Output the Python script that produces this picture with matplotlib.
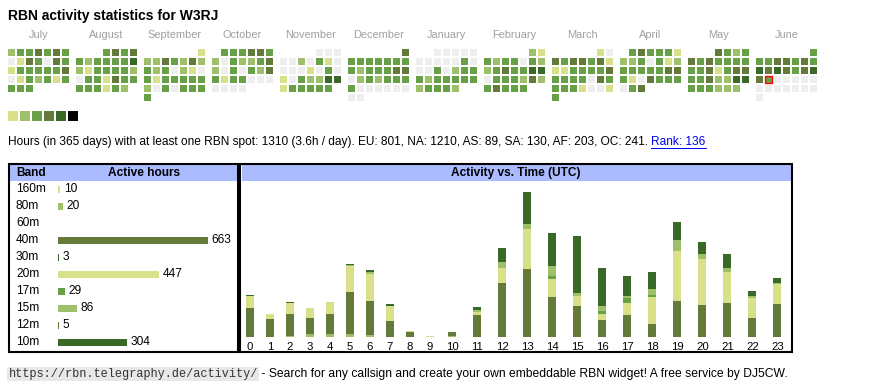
import datetime as dt
import matplotlib
matplotlib.use('Agg')
import matplotlib.pyplot as plt
from matplotlib.patches import Rectangle
from matplotlib.lines import Line2D
from matplotlib.transforms import IdentityTransform, blended_transform_factory

W, H = 870, 390
plt.rcParams['font.family'] = ['Liberation Sans', 'DejaVu Sans']

# --- data ---
callsign = 'W3RJ'
month_names = ['July', 'August', 'September', 'October', 'November', 'December',
               'January', 'February', 'March', 'April', 'May', 'June']
month_years = [2024] * 6 + [2025] * 6
month_nums = [7, 8, 9, 10, 11, 12, 1, 2, 3, 4, 5, 6]
today = dt.date(2025, 6, 17)

# activity level per day (0 = none ... 5 = most)
jul = [2,3,3,4,3,4,3, 0,1,4,3,0,4,3, 1,3,3,3,3,3,4, 0,1,3,2,3,1,3, 3,3,3]
aug = [3,4,3,4, 3,2,3,3,3,3,5, 2,1,3,3,3,3,2, 0,3,3,1,4,3,3, 3,3,3,1,3,2]
sep = [1, 2,2,4,3,2,4,2, 3,2,3,0,2,1,0, 3,1,3,3,3,3,3, 2,0,3,0,3,3,3, 3]
oct_ = [3,3,3,4,4,3, 2,0,3,2,2,3,4, 2,0,3,0,3,2,4, 3,1,3,3,0,0,0, 0,0,0,0]
nov = [0,0,0, 0,0,2,0,3,1,0, 0,0,0,1,0,3,0, 1,0,3,2,2,5,5, 1,3,3,3,3,3]
dec = [4, 3,3,3,3,3,3,3, 3,2,3,3,3,4,4, 0,2,3,2,3,3,3, 3,0,0,0,0,0,0, 0,0]
jan = [0,0,0,0,0, 0,0,0,0,0,3,0, 0,0,3,0,2,3,3, 3,2,3,3,3,3,3, 2,3,3,3,2]
feb = [2,1, 3,2,3,3,0,3,2, 2,3,4,3,3,5,5, 0,3,3,3,2,4,2, 3,4,3,3,3]
mar = [1,0, 4,3,4,4,3,4,1, 1,1,3,3,3,3,4, 3,3,3,3,0,4,3, 3,3,3,1,0,0,1, 3]
apr = [3,4,3,3,3,1, 2,2,3,0,3,1,2, 3,3,3,3,3,4,4, 3,1,0,4,3,3,3, 0,3,4]
may = [4,3,2,3, 4,3,4,3,3,3,3, 3,3,4,1,3,4,4, 3,3,4,2,2,5,5, 3,3,3,2,2,2]
jun = [3, 3,3,4,4,3,4,3, 5,4,5,4,3,4,5, 4,3,0,0,0,0,0, 0,0,0,0,0,0,0, 0]
months = [jul, aug, sep, oct_, nov, dec, jan, feb, mar, apr, may, jun]

level_colors = ['#eeeeee', '#d9e08a', '#9ec06a', '#67a047', '#647a3a', '#3a6826', '#000000']

total_hours = 1310
per_day = 3.6
continents = ['EU', 'NA', 'AS', 'SA', 'AF', 'OC']
continent_hours = [801, 1210, 89, 130, 203, 241]
rank = 136

bands = ['160m', '80m', '60m', '40m', '30m', '20m', '17m', '15m', '12m', '10m']
band_hours = [10, 20, 0, 663, 3, 447, 29, 86, 5, 304]
band_colors = ['#d9e08a', '#9ec06a', '#67a047', '#647a3a', '#3a6826',
               '#d9e08a', '#67a047', '#9ec06a', '#647a3a', '#3a6826']

hours = list(range(24))
h80 = [0,0,1,3,3,3,2,0,0,0,1,0,0,0,0,0,0,0,0,0,0,0,0,0]
h40 = [31,19,23,17,21,45,36,17,5,0,4,23,57,72,42,33,18,23,14,38,34,36,20,35]
h20 = [12,5,12,11,13,28,29,16,1,1,0,3,16,43,20,10,6,13,28,54,49,33,21,21]
h17 = [0,0,0,0,0,0,0,0,0,0,0,0,1,0,3,1,4,5,3,0,0,0,0,0]
h15 = [1,0,0,0,0,1,2,0,0,0,0,3,6,6,11,3,5,3,6,11,5,4,2,1]
h10 = [1,0,1,0,0,1,2,2,0,0,0,3,15,34,35,61,41,21,18,20,13,15,6,6]
stack = [('80m', h80), ('40m', h40), ('20m', h20), ('17m', h17), ('15m', h15), ('10m', h10)]

FS = 8.6        # table text and summary (12px)
FS_FOOT = 8.7   # footer sentence
FS_SMALL = 7.9  # month names, hour labels (11px)

# --- figure: one pixel-space canvas plus data axes ---
fig = plt.figure(figsize=(W / 100, H / 100), dpi=100)
canvas = fig.add_axes([0, 0, 1, 1])
canvas.set_xlim(0, W)
canvas.set_ylim(H, 0)
canvas.axis('off')


def ax_at(x0, y0, x1, y1):
    a = fig.add_axes([x0 / W, 1 - y1 / H, (x1 - x0) / W, (y1 - y0) / H])
    a.patch.set_alpha(0)
    a.axis('off')
    return a


canvas.text(8, 16, f'RBN activity statistics for {callsign}', fontsize=10,
            fontweight='bold', va='center')

# calendar
for m, days in enumerate(months):
    x0 = 8 + 68 * m
    canvas.text(x0 + 30.5, 35, month_names[m], fontsize=FS_SMALL, color='#a0a0a0',
                ha='center', va='center')
    first = dt.date(month_years[m], month_nums[m], 1)
    off = first.weekday()
    for d, lev in enumerate(days):
        day = first + dt.timedelta(days=d)
        row = (d + off) // 7
        col = day.weekday()
        is_today = day == today
        canvas.add_patch(Rectangle((x0 + 9 * col, 49 + 9 * row), 7, 7,
                                   facecolor=level_colors[lev],
                                   edgecolor='red' if is_today else 'none',
                                   linewidth=1.0 if is_today else 0))

for i, c in enumerate(level_colors[1:]):
    canvas.add_patch(Rectangle((8 + 12 * i, 111), 10, 10, facecolor=c, linewidth=0))

# summary line
summary = (f'Hours (in 365 days) with at least one RBN spot: {total_hours} '
           f'({per_day}h / day). '
           + ', '.join(f'{c}: {v}' for c, v in zip(continents, continent_hours)) + '. ')
renderer = fig.canvas.get_renderer()
t1 = canvas.text(8, 142, summary, fontsize=FS, va='center')
x_end = t1.get_window_extent(renderer).x1
t2 = fig.text(x_end / W, 1 - 142 / H, f'Rank: {rank}', fontsize=FS, va='center',
              color='#0000ee')
bb = t2.get_window_extent(renderer)
fig.add_artist(Line2D([bb.x0 / W, bb.x1 / W], [(H - 147.5) / H] * 2,
                      color='#0000ee', linewidth=0.7))

# boxes
canvas.add_patch(Rectangle((10, 165), 227, 16, facecolor='#aabbff', linewidth=0))
canvas.add_patch(Rectangle((242, 165), 549, 16, facecolor='#aabbff', linewidth=0))
canvas.add_patch(Rectangle((9, 164), 229, 188, facecolor='none', edgecolor='black',
                           linewidth=1.5))
canvas.add_patch(Rectangle((240.5, 164), 551.5, 188, facecolor='none', edgecolor='black',
                           linewidth=1.5))
canvas.text(16, 173, 'Band', fontsize=FS, fontweight='bold', va='center')
canvas.text(144, 173, 'Active hours', fontsize=FS, fontweight='bold', va='center',
            ha='center')
canvas.text(516, 173, 'Activity vs. Time (UTC)', fontsize=FS, fontweight='bold',
            va='center', ha='center')

# band table
axb = ax_at(58, 180.8, 208, 350.8)
ypos = list(range(len(bands)))
axb.barh(ypos, band_hours, height=0.41, color=band_colors, linewidth=0)
axb.set_xlim(0, max(band_hours))
axb.set_ylim(len(bands) - 0.5, -0.5)
trans = blended_transform_factory(IdentityTransform(), axb.transData)
for i, (b, v) in enumerate(zip(bands, band_hours)):
    axb.text(16, i, b, transform=trans, fontsize=FS, va='center')
    if v > 0:
        axb.annotate(str(v), (v, i), xytext=(3.5, 0), textcoords='offset pixels',
                     fontsize=FS, va='center')

# activity vs time: column width follows label width, like the html table
col_w = [15 + 5 * len(str(h)) for h in hours]
centers = []
acc = 0
for w in col_w:
    centers.append(acc + w / 2)
    acc += w
axt = ax_at(240, 181, 240 + acc, 336.7)
axt.set_xlim(0, acc)
axt.set_ylim(0, 166.5)
bottom = [0] * 24
for band, vals in stack:
    axt.bar(centers, vals, width=8, bottom=bottom,
            color=band_colors[bands.index(band)], linewidth=0)
    bottom = [b + v for b, v in zip(bottom, vals)]
trans2 = blended_transform_factory(axt.transData, IdentityTransform())
for c, h in zip(centers, hours):
    axt.text(c, H - 346.5, str(h), transform=trans2, fontsize=FS_SMALL + 0.3,
             ha='center', va='center')

# footer
url = 'https://rbn.telegraphy.de/activity/'
t3 = canvas.text(8.5, 374.5, url, fontsize=8.6, family='Liberation Mono', va='center',
                 color='#333333')
bb3 = t3.get_window_extent(renderer)
canvas.add_patch(Rectangle((bb3.x0 - 1, 367), bb3.width + 2, 14, facecolor='#e8e8e8',
                           linewidth=0, zorder=0))
fig.text(bb3.x1 / W, 1 - 374.5 / H,
         ' - Search for any callsign and create your own embeddable RBN widget! '
         'A free service by DJ5CW.', fontsize=FS_FOOT, va='center')

fig.savefig('out.png', dpi=100)
